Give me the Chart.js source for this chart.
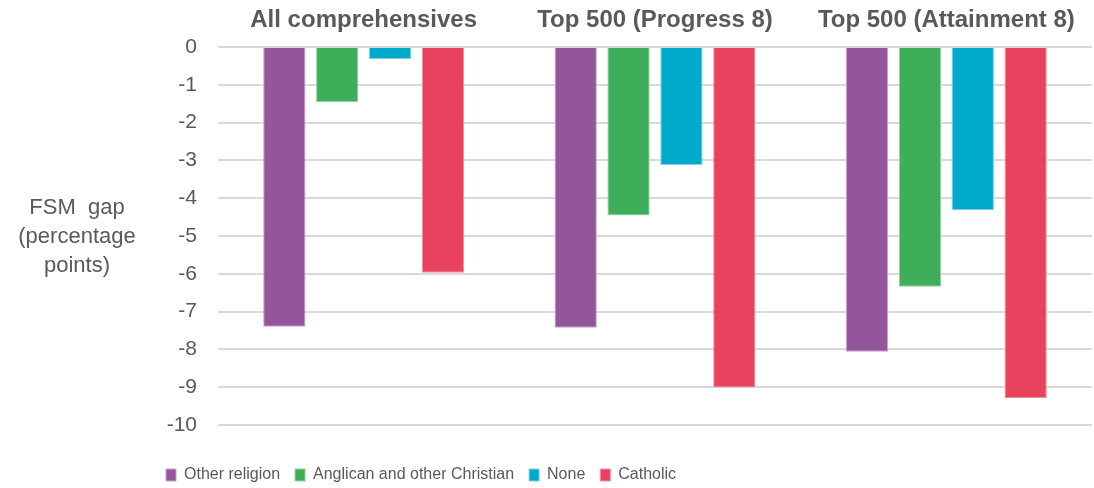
<!DOCTYPE html>
<html>
<head>
<meta charset="utf-8">
<script src="https://cdn.jsdelivr.net/npm/chart.js@4/dist/chart.umd.min.js"></script>
<style>
  html, body { margin: 0; padding: 0; background: #ffffff; }
  #wrap { width: 1094px; height: 488px; position: relative; }
</style>
</head>
<body>
<div id="wrap"><canvas id="chart"></canvas></div>
<script>
// groups along the top axis
const groups = ['All comprehensives', 'Top 500 (Progress 8)', 'Top 500 (Attainment 8)'];

// FSM gap per religious character (percentage points)
const otherReligion = [-7.40, -7.43, -8.06];
const anglicanChristian = [-1.46, -4.46, -6.34];
const noneReligion = [-0.32, -3.12, -4.32];
const catholic = [-5.97, -9.01, -9.29];

const yTicks = [0, -1, -2, -3, -4, -5, -6, -7, -8, -9, -10];
const yTitleLines = ['FSM  gap', '(percentage', 'points)'];

const FONT = '"Liberation Sans", Arial, sans-serif';
const TEXT = '#595959';

// y axis title is horizontal, drawn left of the tick labels
const yTitlePlugin = {
    id: 'yTitle',
    afterDraw(chart) {
        const ctx = chart.ctx;
        const mid = (chart.chartArea.top + chart.chartArea.bottom) / 2;
        ctx.save();
        ctx.fillStyle = TEXT;
        ctx.font = '22px ' + FONT;
        ctx.textAlign = 'center';
        ctx.textBaseline = 'middle';
        yTitleLines.forEach((line, i) => {
            ctx.fillText(line, 77, mid + 1 + (i - 1) * 29);
        });
        ctx.restore();
    }
};

// move the legend so it sits under the y axis, lower down, like the original
const legendShift = {
    id: 'legendShift',
    afterLayout(chart) {
        const lg = chart.legend;
        if (!lg) return;
        const w = lg.right - lg.left;
        lg.left = 151;
        lg.right = 151 + w;
        lg.top += 27;
        lg.bottom += 27;
    }
};

const makeSet = (label, data, color, border) => ({
    label: label,
    data: data,
    backgroundColor: color,
    borderColor: border,
    borderWidth: 1,
    categoryPercentage: 0.726,
    barPercentage: 0.8
});

new Chart(document.getElementById('chart'), {
    type: 'bar',
    data: {
        labels: groups,
        datasets: [
            makeSet('Other religion', otherReligion, '#95559b', '#c9a3cf'),
            makeSet('Anglican and other Christian', anglicanChristian, '#3eae5b', '#8fd3a0'),
            makeSet('None', noneReligion, '#00aacb', '#7fd3e4'),
            makeSet('Catholic', catholic, '#e8425e', '#f28fa0')
        ]
    },
    options: {
        responsive: true,
        maintainAspectRatio: false,
        animation: false,
        layout: { padding: { top: 0, right: 2, bottom: 22, left: 0 } },
        scales: {
            x: {
                position: 'top',
                grid: { display: false },
                border: { display: false },
                ticks: {
                    color: TEXT,
                    padding: 4,
                    font: { family: FONT, size: 24, weight: 'bold' }
                },
                afterFit(scale) { scale.height = 47; }
            },
            y: {
                min: -10,
                max: 0,
                afterBuildTicks(scale) {
                    scale.ticks = yTicks.map(v => ({ value: v }));
                },
                grid: { color: '#d9d9d9', lineWidth: 2, drawTicks: false },
                border: { display: false },
                ticks: {
                    color: TEXT,
                    padding: 21,
                    font: { family: FONT, size: 21 }
                },
                afterFit(scale) { scale.width = 218; }
            }
        },
        plugins: {
            legend: {
                position: 'bottom',
                align: 'start',
                labels: {
                    color: TEXT,
                    boxWidth: 10,
                    boxHeight: 12,
                    padding: 15,
                    font: { family: FONT, size: 16 }
                }
            },
            tooltip: { enabled: false }
        }
    },
    plugins: [yTitlePlugin, legendShift]
});
</script>
</body>
</html>
